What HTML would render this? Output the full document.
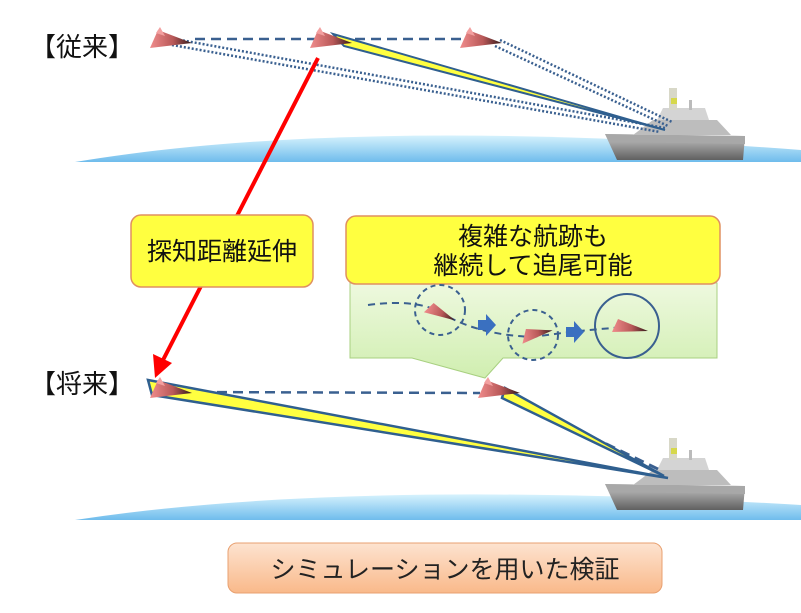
<!DOCTYPE html>
<html><head><meta charset="utf-8"><style>
html,body{margin:0;padding:0;background:#fff;width:801px;height:613px;overflow:hidden}
svg{display:block}
text{font-family:"Liberation Sans","Noto Sans CJK JP",sans-serif}
</style></head><body>
<svg width="801" height="613" viewBox="0 0 801 613" xmlns="http://www.w3.org/2000/svg">
<defs>
<linearGradient id="sea" x1="0" y1="0" x2="0" y2="1"><stop offset="0" stop-color="#d6f2fd"/><stop offset="1" stop-color="#6fbcec"/></linearGradient>
<linearGradient id="mis" x1="0" y1="0" x2="1" y2="0"><stop offset="0" stop-color="#f08c8c"/><stop offset="0.55" stop-color="#b85858"/><stop offset="1" stop-color="#301818"/></linearGradient>
<linearGradient id="peach" x1="0" y1="0" x2="0" y2="1"><stop offset="0" stop-color="#fde3d0"/><stop offset="1" stop-color="#f9b98a"/></linearGradient>
<linearGradient id="green" x1="0" y1="0" x2="0" y2="1"><stop offset="0" stop-color="#eef9df"/><stop offset="1" stop-color="#d0eeb0"/></linearGradient>
<linearGradient id="hull" x1="0" y1="0" x2="0" y2="1"><stop offset="0" stop-color="#c8c8c8"/><stop offset="1" stop-color="#606060"/></linearGradient>
<g id="ship">
<polygon points="0,12 140,14 138,38 12,38" fill="url(#hull)"/>
<polygon points="0,12 140,14 140,22 4,20" fill="#a8a8a8"/>
<polygon points="28,13 48,-2 112,-2 126,13" fill="#bdbdbd"/>
<polygon points="52,-2 58,-14 100,-14 104,-2" fill="#d4d4d4"/>
<rect x="64" y="-34" width="8" height="22" fill="#d8d8c8"/>
<rect x="66" y="-24" width="6" height="6" fill="#d6d84a"/>
<rect x="84" y="-22" width="3" height="10" fill="#bbb"/>
</g>
<g id="m"><polygon points="0,18 8,0 42,13" fill="url(#mis)"/><polygon points="6,3 10,-3 15,6" fill="#f3a0a0"/></g>
</defs>

<!-- top sea -->
<path d="M75,162 Q350,116 801,150 L801,162 Z" fill="url(#sea)"/>
<use href="#ship" x="605" y="122"/>
<!-- top beams -->
<g stroke="#3a6090" stroke-width="2.5" stroke-dasharray="2,2" fill="none">
<line x1="175" y1="39" x2="665" y2="128"/>
<line x1="172" y1="45" x2="660" y2="132"/>
<line x1="500" y1="40" x2="672" y2="122"/>
<line x1="495" y1="46" x2="668" y2="126"/>
</g>
<line x1="195" y1="39" x2="470" y2="39" stroke="#3a6090" stroke-width="2.5" stroke-dasharray="10,6"/>
<polygon points="333,34 344,46 665,130" fill="#ffff40" stroke="#2f5f8f" stroke-width="2"/>
<use href="#m" x="150" y="30"/>
<use href="#m" x="310" y="30"/>
<use href="#m" x="460" y="30"/>
<text x="30" y="56" font-size="26" fill="#111">【従来】</text>

<!-- red arrow -->
<line x1="318" y1="58" x2="162" y2="362" stroke="#ff0000" stroke-width="4"/>
<polygon points="155,378 153,354 172,363" fill="#ff0000"/>

<!-- box1 -->
<rect x="131" y="215" width="182" height="72" rx="10" fill="#ffff40" stroke="#e09060" stroke-width="1.5"/>
<text x="222" y="260" font-size="25" text-anchor="middle" fill="#111">探知距離延伸</text>

<!-- green callout -->
<path d="M350,283 L717,283 L717,358 L503,358 L485,378 L412,358 L350,358 Z" fill="url(#green)" stroke="#a8d080" stroke-width="1"/>
<rect x="346" y="216" width="374" height="68" rx="10" fill="#ffff40" stroke="#e09060" stroke-width="1.5"/>
<text x="533" y="245" font-size="25" text-anchor="middle" fill="#111">複雑な航跡も</text>
<text x="533" y="274" font-size="25" text-anchor="middle" fill="#111">継続して追尾可能</text>
<path d="M368,305 Q420,298 445,315 Q480,335 533,337 Q580,330 627,327" fill="none" stroke="#3a6090" stroke-width="2" stroke-dasharray="7,5"/>
<circle cx="440" cy="310" r="25" fill="none" stroke="#3a6090" stroke-width="2" stroke-dasharray="5,4"/>
<circle cx="533" cy="335" r="25" fill="none" stroke="#3a6090" stroke-width="2" stroke-dasharray="5,4"/>
<circle cx="627" cy="326" r="32" fill="none" stroke="#3a6090" stroke-width="2"/>
<polygon points="478,320 486,320 486,314 496,325 486,336 486,330 478,330" fill="#3a70c0"/>
<polygon points="566,327 574,327 574,321 584,332 574,343 574,337 566,337" fill="#3a70c0"/>
<g transform="translate(428,301) rotate(20)"><polygon points="0,12 6,0 32,9" fill="url(#mis)"/></g>
<g transform="translate(520,330) rotate(-10)"><polygon points="0,14 6,0 32,6" fill="url(#mis)"/></g>
<polygon points="612,332 618,319 648,331" fill="url(#mis)"/>

<!-- bottom sea -->
<path d="M75,520 Q350,478 801,505 L801,520 Z" fill="url(#sea)"/>
<use href="#ship" x="605" y="472"/>
<line x1="185" y1="392" x2="480" y2="393" stroke="#3a6090" stroke-width="2.5" stroke-dasharray="10,6"/>
<line x1="505" y1="395" x2="660" y2="470" stroke="#3a6090" stroke-width="3" stroke-dasharray="10,6"/>
<polygon points="148,380 152,395 668,478" fill="#ffff40" stroke="#2f5f8f" stroke-width="2.5"/>
<polygon points="505,388 502,398 664,476" fill="#ffff40" stroke="#2f5f8f" stroke-width="2.5"/>
<use href="#m" x="150" y="380"/>
<use href="#m" x="478" y="380"/>
<text x="30" y="393" font-size="26" fill="#111">【将来】</text>

<!-- bottom box -->
<rect x="228" y="543" width="434" height="50" rx="9" fill="url(#peach)" stroke="#e8a070" stroke-width="1"/>
<text x="445" y="578" font-size="25" text-anchor="middle" fill="#222">シミュレーションを用いた検証</text>
</svg>
</body></html>
